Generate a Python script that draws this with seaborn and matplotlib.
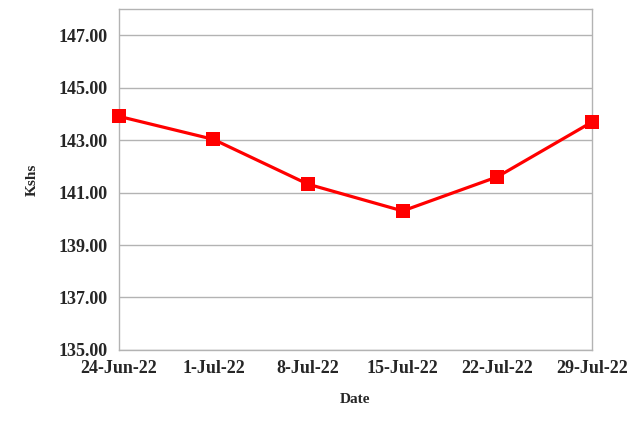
import matplotlib
matplotlib.use("Agg")
import matplotlib.pyplot as plt
import seaborn as sns
import pandas as pd

# Datos
dates = ["24-Jun-22", "1-Jul-22", "8-Jul-22", "15-Jul-22", "22-Jul-22", "29-Jul-22"]
rates = [143.91, 143.03, 141.32, 140.30, 141.60, 143.69]
y_ticks = [135, 137, 139, 141, 143, 145, 147]

sns.set_theme(style="white")
plt.rcParams['font.family'] = ['Liberation Serif', 'DejaVu Serif']

df = pd.DataFrame({"pos": range(len(dates)), "Kshs": rates})

fig, ax = plt.subplots(figsize=(6.42, 4.33), dpi=100)
fig.subplots_adjust(left=0.185, right=0.922, top=0.979, bottom=0.192)

sns.lineplot(data=df, x="pos", y="Kshs", ax=ax, color="#ff0000", linewidth=2.3,
             marker="s", markersize=9.5, markeredgewidth=0, markerfacecolor="#ff0000",
             clip_on=False, zorder=5)

ax.set_xlim(0, len(dates) - 1)
ax.set_ylim(135, 148)
ax.set_yticks(y_ticks)
ax.set_yticklabels([f"{v:.2f}" for v in y_ticks], fontsize=13, fontweight='bold')
ax.set_xticks(range(len(dates)))
ax.set_xticklabels(dates, fontsize=13, fontweight='bold')

ax.grid(axis='y', color='#b3b3b3', linewidth=1)
ax.grid(axis='x', visible=False)
ax.set_axisbelow(True)
for spine in ax.spines.values():
    spine.set_edgecolor('#b3b3b3')
    spine.set_linewidth(1)
ax.tick_params(axis='x', direction='out', length=6, color='#b3b3b3', width=1, pad=1)
ax.tick_params(axis='y', direction='out', length=6, color='#b3b3b3', width=1, pad=2)

ax.set_xlabel("Date", fontsize=11, fontweight='bold', labelpad=12)
ax.set_ylabel("Kshs", fontsize=11, fontweight='bold', labelpad=14)

plt.savefig("out.png", dpi=100)
plt.close()
